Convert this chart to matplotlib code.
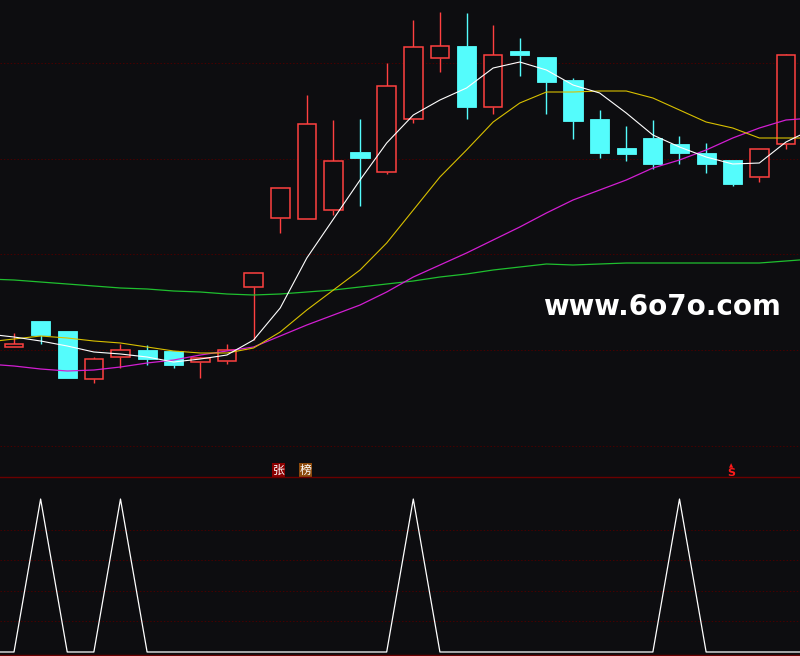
import numpy as np
import matplotlib
matplotlib.use("Agg")
import matplotlib.pyplot as plt
from matplotlib.transforms import blended_transform_factory

# candle data (price units)
opens = [6.53, 6.79, 6.69, 6.21, 6.43, 6.50, 6.49, 6.38, 6.39, 7.13,
         7.82, 7.81, 7.90, 8.48, 8.28, 8.81, 9.42, 9.54, 8.93, 9.49,
         9.43, 9.20, 8.81, 8.52, 8.62, 8.56, 8.47, 8.40, 8.23, 8.56]
closes = [6.56, 6.65, 6.22, 6.41, 6.50, 6.41, 6.35, 6.42, 6.50, 7.27,
          8.12, 8.76, 8.39, 8.42, 9.14, 9.53, 9.54, 8.93, 9.45, 9.45,
          9.18, 8.79, 8.47, 8.46, 8.36, 8.47, 8.36, 8.16, 8.51, 9.45]
highs = [6.67, 6.79, 6.69, 6.43, 6.56, 6.55, 6.49, 6.43, 6.56, 7.27,
         8.12, 9.05, 8.80, 8.81, 9.37, 9.80, 9.88, 9.87, 9.75, 9.62,
         9.43, 9.22, 8.90, 8.74, 8.80, 8.64, 8.57, 8.40, 8.51, 9.46]
lows = [6.53, 6.56, 6.22, 6.17, 6.32, 6.35, 6.32, 6.22, 6.36, 6.60,
        7.67, 7.81, 7.85, 7.94, 8.26, 8.77, 9.28, 8.81, 8.86, 9.24,
        8.86, 8.61, 8.42, 8.39, 8.31, 8.36, 8.27, 8.14, 8.18, 8.51]

# moving averages, one extra point on each side (index -1 and 30)
ma5 = [6.66, 6.63, 6.59, 6.54, 6.48, 6.46, 6.43, 6.38, 6.41, 6.45, 6.60,
       6.92, 7.42, 7.81, 8.20, 8.57, 8.85, 9.00, 9.12, 9.32, 9.38,
       9.30, 9.15, 9.07, 8.87, 8.65, 8.53, 8.43, 8.36, 8.37, 8.58, 8.71]
ma10 = [6.58, 6.61, 6.64, 6.62, 6.59, 6.57, 6.53, 6.49, 6.47, 6.47, 6.52,
        6.68, 6.90, 7.10, 7.30, 7.57, 7.90, 8.23, 8.50, 8.78, 8.97,
        9.08, 9.08, 9.09, 9.09, 9.02, 8.90, 8.78, 8.72, 8.62, 8.62, 8.62]
ma20 = [6.36, 6.34, 6.31, 6.29, 6.30, 6.33, 6.37, 6.40, 6.45, 6.49, 6.53,
        6.64, 6.75, 6.85, 6.95, 7.08, 7.23, 7.35, 7.47, 7.60, 7.73,
        7.87, 8.00, 8.10, 8.20, 8.32, 8.40, 8.50, 8.62, 8.72, 8.80, 8.82]
ma60 = [7.21, 7.20, 7.18, 7.16, 7.14, 7.12, 7.11, 7.09, 7.08, 7.06, 7.05,
        7.06, 7.08, 7.10, 7.13, 7.16, 7.19, 7.23, 7.26, 7.30, 7.33,
        7.36, 7.35, 7.36, 7.37, 7.37, 7.37, 7.37, 7.37, 7.37, 7.39, 7.41]

grid_levels = [9.37, 8.41, 7.46, 6.50, 5.54]

# signal panel
signal = [0, 0, 100, 0, 0, 100, 0, 0, 0, 0, 0, 0, 0, 0, 0, 0,
          100, 0, 0, 0, 0, 0, 0, 0, 0, 0, 100, 0, 0, 0, 0, 0]
signal_grid = [20, 40, 60, 80]

tag_idx = [10, 11]
tag_text = ["张", "榜"]
tag_bg = ["#8a0000", "#8c4a0c"]
s_idx = 27

bg = "#0d0d10"
up_c = "#ff4040"
dn_c = "#54fcfc"
grid_c = "#480000"

fig = plt.figure(figsize=(8, 6.56), dpi=100, facecolor=bg)
ax1 = fig.add_axes([0, 1 - 477 / 656, 1, 477 / 656])
ax2 = fig.add_axes([0, 1 / 656, 1, 178 / 656])

for ax in (ax1, ax2):
    ax.set_facecolor(bg)
    ax.set_xticks([])
    ax.set_yticks([])
    for s in ax.spines.values():
        s.set_visible(False)
    ax.set_xlim(-14 / 26.62, 786 / 26.62)

ax1.set_ylim(5.23, 10.0)
for g in grid_levels:
    ax1.axhline(g, color=grid_c, lw=0.7, ls=(0, (1.5, 2)), zorder=0)

idx = np.arange(len(opens))
o = np.array(opens)
c = np.array(closes)
h = np.array(highs)
l = np.array(lows)
up = c >= o
body_lo = np.minimum(o, c)
body_hi = np.maximum(o, c)
colors = np.where(up, up_c, dn_c)

ax1.vlines(idx, l, body_lo, colors=colors, lw=1.0, zorder=2)
ax1.vlines(idx, body_hi, h, colors=colors, lw=1.0, zorder=2)
height = np.maximum(body_hi - body_lo, 0.015)
ax1.bar(idx[up], height[up], bottom=body_lo[up], width=0.7,
        facecolor=bg, edgecolor=up_c, linewidth=1.1, zorder=3)
ax1.bar(idx[~up], height[~up], bottom=body_lo[~up], width=0.72,
        facecolor=dn_c, edgecolor=dn_c, linewidth=0.6, zorder=3)

xm = np.arange(-1, len(opens) + 1)
ax1.plot(xm, ma60, color="#1fbf2f", lw=0.9, zorder=4)
ax1.plot(xm, ma20, color="#d21ed2", lw=0.9, zorder=4)
ax1.plot(xm, ma10, color="#d8c000", lw=0.8, zorder=4)
ax1.plot(xm, ma5, color="white", lw=0.8, zorder=5)

tr = blended_transform_factory(ax1.transData, ax1.transAxes)
for i, t, b in zip(tag_idx, tag_text, tag_bg):
    ax1.text(i - 0.05, 0.0145, t, transform=tr, ha="center", va="center",
             fontsize=8.5, color="white", family=["Noto Sans CJK SC", "DejaVu Sans"],
             bbox=dict(boxstyle="square,pad=0.05", fc=b, ec="none"))
ax1.text(s_idx - 0.05, 0.023, "▲", transform=tr, ha="center", va="center",
         fontsize=4, color="#ff1a1a")
ax1.text(s_idx - 0.05, 0.009, "S", transform=tr, ha="center", va="center",
         fontsize=8, fontweight="bold", color="#ff1a1a")

fig.text(0.8275, 0.532, "www.6o7o.com", ha="center", va="center",
         fontsize=20, fontweight="bold", color="white", family="DejaVu Sans")

ax2.set_ylim(-1.96, 114.4)
for g in signal_grid:
    ax2.axhline(g, color=grid_c, lw=0.7, ls=(0, (1.5, 2)), zorder=0)
ax2.plot(xm, signal, color="white", lw=0.9)
ax2.spines["top"].set_visible(True)
ax2.spines["top"].set_color("#6a0000")
ax2.spines["top"].set_linewidth(1.0)
ax2.spines["bottom"].set_visible(True)
ax2.spines["bottom"].set_color("#6a0000")
ax2.spines["bottom"].set_linewidth(1.0)

fig.savefig("out.png", dpi=100, facecolor=bg)
